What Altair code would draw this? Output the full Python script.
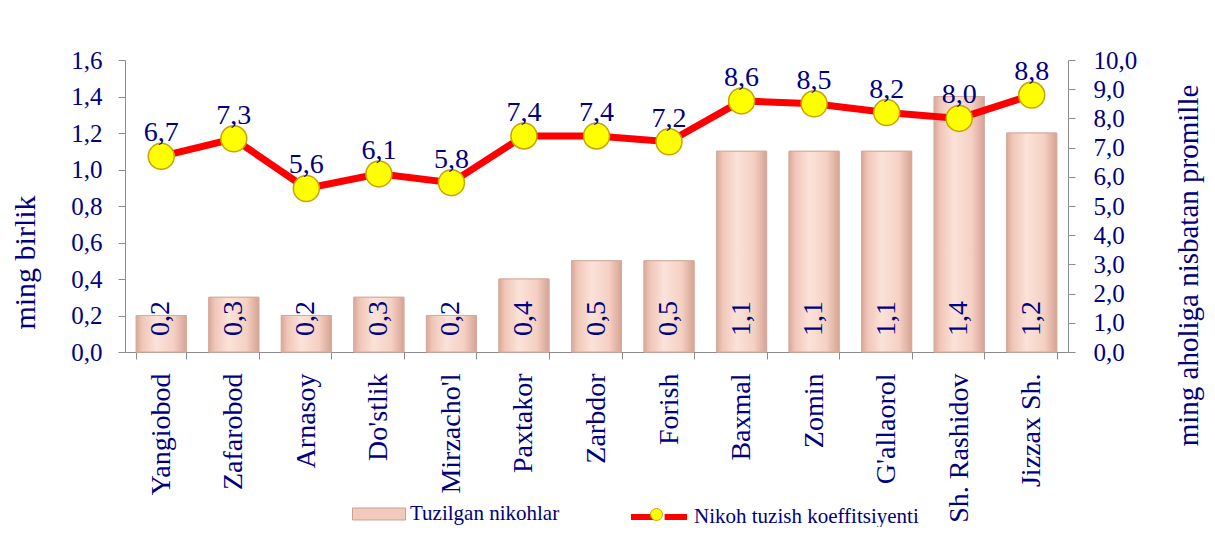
import altair as alt
import pandas as pd

categories = ["Yangiobod", "Zafarobod", "Arnasoy", "Do'stlik", "Mirzacho'l", "Paxtakor",
              "Zarbdor", "Forish", "Baxmal", "Zomin", "G'allaorol", "Sh. Rashidov", "Jizzax  Sh."]
marriages = [0.2, 0.3, 0.2, 0.3, 0.2, 0.4, 0.5, 0.5, 1.1, 1.1, 1.1, 1.4, 1.2]
coefficient = [6.7, 7.3, 5.6, 6.1, 5.8, 7.4, 7.4, 7.2, 8.6, 8.5, 8.2, 8.0, 8.8]
left_ticks = [0.0, 0.2, 0.4, 0.6, 0.8, 1.0, 1.2, 1.4, 1.6]
right_ticks = [0, 1, 2, 3, 4, 5, 6, 7, 8, 9, 10]
bar_name = "Tuzilgan nikohlar"
line_name = "Nikoh tuzish koeffitsiyenti"

df = pd.DataFrame({
    "cat": categories,
    "bars": marriages,
    "coef": coefficient,
})
df["s1"] = bar_name
df["s2"] = line_name
df["zero"] = 0.0
df["bar_lab"] = [f"{v:.1f}".replace(".", ",") for v in marriages]
df["coef_lab"] = [f"{v:.1f}".replace(".", ",") for v in coefficient]

NAVY = "#000080"
FONT = "Liberation Serif"
GRAY = "#8c8c8c"

x_enc = alt.X("cat:N", sort=categories,
              scale=alt.Scale(paddingInner=0.31, paddingOuter=0.155),
              axis=alt.Axis(title=None, labelAngle=-90, labelAlign="right", labelBaseline="middle",
                            labelFontSize=28, labelFont=FONT, labelColor=NAVY, labelPadding=14,
                            tickSize=7, tickBand="extent", tickColor=GRAY, domainColor=GRAY,
                            labelLimit=400, labelOverlap=False, grid=False))
x_plain = alt.X("cat:N", sort=categories)

ly_scale = alt.Scale(domain=[0, 1.6], nice=False, zero=True)
ry_scale = alt.Scale(domain=[0, 10], nice=False, zero=True)

comma_expr = "replace(format(datum.value, '.1f'), '.', ',')"

bar_gradient = alt.LinearGradient(
    gradient="linear", x1=0, y1=0, x2=1, y2=0,
    stops=[alt.GradientStop(offset=0, color="#D9A898"),
           alt.GradientStop(offset=0.12, color="#F0C6B8"),
           alt.GradientStop(offset=0.4, color="#FBE2D9"),
           alt.GradientStop(offset=0.75, color="#F5D0C3"),
           alt.GradientStop(offset=1, color="#D6A393")])

base = alt.Chart(df)

bars = base.mark_bar(stroke="#D2ACA0", strokeWidth=1).encode(
    x=x_enc,
    y=alt.Y("bars:Q", scale=ly_scale,
            axis=alt.Axis(orient="left", values=left_ticks, labelExpr=comma_expr,
                          labelFontSize=25, labelFont=FONT, labelColor=NAVY, labelPadding=16,
                          tickSize=7, tickColor=GRAY, domainColor=GRAY, grid=False,
                          labelOverlap=False,
                          title="ming birlik", titleFontSize=30, titleFont=FONT,
                          titleFontWeight="normal", titleColor=NAVY, titleAngle=270,
                          titleX=-100, titleY=202, titleAlign="center", titleBaseline="middle")),
    fill=alt.Fill("s1:N", scale=alt.Scale(domain=[bar_name], range=["#F2CABD"]),
                  legend=alt.Legend(title=None, orient="none", legendX=227, legendY=427,
                                    symbolType="M-1,-0.226H1V0.226H-1Z", symbolSize=2809,
                                    symbolStrokeColor="#C9A094", symbolStrokeWidth=1,
                                    labelFont=FONT, labelFontSize=21, labelColor=NAVY,
                                    labelOffset=4, padding=0, labelLimit=400)),
)

bars_shade = base.mark_bar(fill=bar_gradient, stroke="#D2ACA0", strokeWidth=1).encode(
    x=x_plain,
    y=alt.Y("bars:Q", scale=ly_scale, axis=None),
)

bar_text = base.mark_text(angle=270, align="left", baseline="middle", dx=16,
                          font=FONT, fontSize=28, color=NAVY).encode(
    x=x_plain,
    y=alt.Y("zero:Q", scale=ly_scale, axis=None),
    text="bar_lab:N",
)

line = base.mark_line(strokeWidth=7).encode(
    x=x_plain,
    y=alt.Y("coef:Q", scale=ry_scale,
            axis=alt.Axis(orient="right", values=right_ticks, labelExpr=comma_expr,
                          labelFontSize=25, labelFont=FONT, labelColor=NAVY, labelPadding=18,
                          tickSize=7, tickColor=GRAY, domainColor=GRAY, grid=False,
                          labelOverlap=False,
                          title="ming aholiga nisbatan promille", titleFontSize=29, titleFont=FONT,
                          titleFontWeight="normal", titleColor=NAVY, titleAngle=270,
                          titleX=120, titleY=205, titleAlign="center", titleBaseline="middle")),
    stroke=alt.Stroke("s2:N", scale=alt.Scale(domain=[line_name], range=["#FF0000"]),
                      legend=alt.Legend(title=None, orient="none", legendX=503, legendY=426,
                                        symbolType="M-1,0H-0.2M0.2,0H1", symbolSize=3136,
                                        symbolStrokeWidth=6,
                                        labelFont=FONT, labelFontSize=21, labelColor=NAVY,
                                        labelOffset=4, padding=0, labelLimit=400)),
)

points = base.mark_circle(size=676, stroke="#C8A400", strokeWidth=1.5, opacity=1).encode(
    x=x_plain,
    y=alt.Y("coef:Q", scale=ry_scale, axis=None),
    fill=alt.Fill("s2:N", scale=alt.Scale(domain=[line_name], range=["#FFFF00"]),
                  legend=alt.Legend(title=None, orient="none", legendX=525, legendY=448,
                                    symbolType="circle", symbolSize=144,
                                    symbolStrokeColor="#C8A400", symbolStrokeWidth=1,
                                    labelExpr="''", labelFontSize=1, padding=0)),
)

line_text = base.mark_text(align="center", baseline="alphabetic", dy=-15,
                           font=FONT, fontSize=28, color=NAVY).encode(
    x=x_plain,
    y=alt.Y("coef:Q", scale=ry_scale, axis=None),
    text="coef_lab:N",
)

left = alt.layer(bars, bars_shade, bar_text).resolve_scale(y="independent")
right = alt.layer(line, points, line_text).resolve_scale(y="independent")

chart = alt.layer(left, right).resolve_scale(y="independent", fill="independent").properties(
    width=943, height=292,
    autosize=alt.AutoSizeParams(type="none"),
    padding={"left": 117, "top": 52, "right": 139, "bottom": 175},
    background="white",
).configure_view(stroke=None).configure_axis(labelOverlap=False)

chart.save("out.html", embed_options={"renderer": "svg", "actions": False})
